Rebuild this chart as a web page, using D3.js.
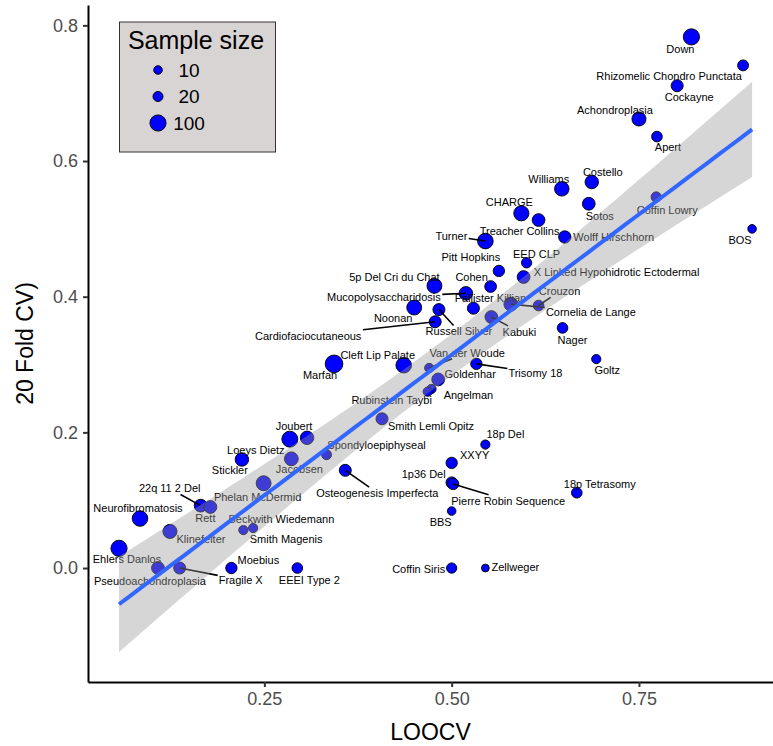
<!DOCTYPE html>
<html><head><meta charset="utf-8">
<script src="https://cdn.jsdelivr.net/npm/d3@7"></script>
<style>
body{margin:0;background:#fff}
svg{display:block;font-family:"Liberation Sans",Arial,Helvetica,sans-serif}
</style>
</head><body>
<svg id="chart" width="773" height="746"></svg>
<script>
// ---------------- data ----------------
const syndromes = ["Down","Rhizomelic Chondro Punctata","Cockayne","Achondroplasia","Apert","Costello","Williams","Sotos","CHARGE","Treacher Collins","Coffin Lowry","BOS","Wolff Hirschhorn","Turner","EED CLP","Pitt Hopkins","X Linked Hypohidrotic Ectodermal","Cohen","5p Del Cri du Chat","Mucopolysaccharidosis","Pallister Killian","Noonan","Russell Silver","Cardiofaciocutaneous","Kabuki","Crouzon","Cornelia de Lange","Nager","Cleft Lip Palate","Van der Woude","Marfan","Trisomy 18","Goldenhar","Goltz","Angelman","Rubinstein Taybi","Smith Lemli Opitz","Loeys Dietz","Joubert","18p Del","Spondyloepiphyseal","Jacobsen","Stickler","XXYY","Osteogenesis Imperfecta","1p36 Del","Pierre Robin Sequence","Phelan McDermid","22q 11 2 Del","Rett","18p Tetrasomy","Neurofibromatosis","Beckwith Wiedemann","Smith Magenis","BBS","Klinefelter","Ehlers Danlos","Moebius","Coffin Siris","Zellweger","Pseudoachondroplasia","Fragile X","EEEI Type 2"];
const loocv = [0.820,0.889,0.801,0.750,0.774,0.687,0.647,0.683,0.593,0.616,0.773,0.901,0.651,0.545,0.600,0.563,0.596,0.552,0.477,0.519,0.529,0.450,0.483,0.478,0.553,0.616,0.579,0.648,0.436,0.470,0.343,0.533,0.482,0.693,0.473,0.468,0.407,0.284,0.307,0.545,0.333,0.286,0.220,0.500,0.358,0.500,0.502,0.249,0.165,0.178,0.667,0.084,0.222,0.235,0.500,0.124,0.056,0.206,0.500,0.545,0.108,0.137,0.294];
const foldCV20 = [0.783,0.741,0.711,0.662,0.636,0.569,0.559,0.537,0.523,0.513,0.547,0.500,0.488,0.482,0.450,0.438,0.429,0.415,0.416,0.405,0.383,0.384,0.381,0.363,0.370,0.387,0.389,0.354,0.299,0.295,0.301,0.301,0.278,0.308,0.264,0.260,0.220,0.190,0.192,0.182,0.167,0.161,0.160,0.155,0.144,0.126,0.124,0.125,0.092,0.090,0.111,0.073,0.056,0.059,0.084,0.054,0.029,0.000,0.000,0.000,0.000,0.000,0.000];
const sampleSize = [100,28,39,66,25,57,72,48,83,48,22,10,43,90,22,32,48,36,78,57,39,78,39,39,48,25,62,25,89,14,128,32,48,14,14,14,39,96,57,14,19,62,57,32,39,32,32,78,48,48,25,89,14,14,10,66,100,32,22,6,48,39,25];
const legendSizes = [10,20,100];
const xTicks = [0.25,0.50,0.75];
const yTicks = [0.0,0.2,0.4,0.6,0.8];

// -------- label placement (pixel offsets from point, like ggrepel output) --------
const labelLayout = {
 "Down":[-11,12],"Rhizomelic Chondro Punctata":[-74,11],"Cockayne":[12,11],"Achondroplasia":[-24,-9],
 "Apert":[11,11],"Costello":[11,-10],"Williams":[-13,-10],"Sotos":[11,12],"CHARGE":[-12,-11],
 "Treacher Collins":[-19,11],"Coffin Lowry":[11,13],"BOS":[-12,11],"Wolff Hirschhorn":[49,0],
 "Turner":[-34,-5],"EED CLP":[10,-9],"Pitt Hopkins":[-28,-14],"X Linked Hypohidrotic Ectodermal":[93,-5],
 "Cohen":[-19,-9],"5p Del Cri du Chat":[-40,-9],"Mucopolysaccharidosis":[-82,4],"Pallister Killian":[17,-10],
 "Noonan":[-21,11],"Russell Silver":[20,22],"Cardiofaciocutaneous":[-127,14],"Kabuki":[28,15],
 "Crouzon":[21,-14],"Cornelia de Lange":[80,8],"Nager":[10,12],"Cleft Lip Palate":[-26,-10],
 "Van der Woude":[38,-15],"Marfan":[-14,11],"Trisomy 18":[59,9],"Goldenhar":[32,-5],"Goltz":[11,11],
 "Angelman":[37,6],"Rubinstein Taybi":[-36,8],"Smith Lemli Opitz":[49,7],"Loeys Dietz":[-34,11],
 "Joubert":[-13,-12],"18p Del":[20,-10],"Spondyloepiphyseal":[50,-10],"Jacobsen":[8,10],"Stickler":[-12,11],
 "XXYY":[23,-8],"Osteogenesis Imperfecta":[32,23],"1p36 Del":[-28,-8],"Pierre Robin Sequence":[55,17],
 "Phelan McDermid":[-6,14],"22q 11 2 Del":[-31,-17],"Rett":[-5,11],"18p Tetrasomy":[23,-9],
 "Neurofibromatosis":[-2,-10],"Beckwith Wiedemann":[38,-11],"Smith Magenis":[33,11],"BBS":[-11,11],
 "Klinefelter":[31,8],"Ehlers Danlos":[8,11],"Moebius":[27,-8],"Coffin Siris":[-33,1],"Zellweger":[30,-1],
 "Pseudoachondroplasia":[-8,13],"Fragile X":[61,12],"EEEI Type 2":[12,12]
};
const withSegment = new Set(["Turner","Mucopolysaccharidosis","Crouzon","Cornelia de Lange","Russell Silver",
 "Cardiofaciocutaneous","Kabuki","Van der Woude","Trisomy 18","Osteogenesis Imperfecta","22q 11 2 Del",
 "Pierre Robin Sequence","Fragile X"]);

// ---------------- chart ----------------
const svg = d3.select("#chart");
const L = 88, R = 773, T = 5, B = 682;
const x = d3.scaleLinear().domain([0.0146, 0.9289]).range([L, R]);
const y = d3.scaleLinear().domain([-0.168, 0.83]).range([B, T]);
const r = d3.scaleSqrt().domain([10, 100]).range([4.3, 8.1]);

const data = syndromes.map((s,i)=>({name:s, x:loocv[i], y:foldCV20[i], n:sampleSize[i]}));

svg.append("defs").append("clipPath").attr("id","clip")
  .append("rect").attr("x",L).attr("y",T).attr("width",R-L).attr("height",B-T);

const plot = svg.append("g").attr("clip-path","url(#clip)");

// points
plot.append("g").selectAll("circle").data(data).join("circle")
  .attr("cx",d=>x(d.x)).attr("cy",d=>y(d.y)).attr("r",d=>r(d.n))
  .attr("fill","#0000ff").attr("stroke","#000").attr("stroke-width",0.9);

// labels + leader segments (segment runs from the point towards the label centre, stopping at the label box)
const segG = plot.append("g");
const labG = plot.append("g").attr("font-size","11px").attr("fill","#000");
data.forEach(d=>{
  const off = labelLayout[d.name] || [0,-10];
  const px = x(d.x), py = y(d.y);
  const t = labG.append("text").attr("x",px+off[0]).attr("y",py+off[1]).attr("dy","0.35em")
    .attr("text-anchor","middle").text(d.name);
  if (withSegment.has(d.name)) {
    const bb = t.node().getBBox();
    const cx = bb.x+bb.width/2, cy = bb.y+bb.height/2;
    const hw = bb.width/2+1, hh = bb.height/2;
    const dx = px-cx, dy = py-cy;
    const k = Math.min(dx!==0 ? hw/Math.abs(dx) : Infinity, dy!==0 ? hh/Math.abs(dy) : Infinity, 1);
    const ex = cx+dx*k, ey = cy+dy*k;
    segG.append("line").attr("x1",px).attr("y1",py).attr("x2",ex).attr("y2",ey)
      .attr("stroke","#000").attr("stroke-width",1.6);
  }
});

// linear fit with 95% CI (as geom_smooth(method = "lm"))
const n = data.length;
const mx = d3.mean(data,d=>d.x), my = d3.mean(data,d=>d.y);
const sxx = d3.sum(data,d=>(d.x-mx)**2), sxy = d3.sum(data,d=>(d.x-mx)*(d.y-my));
const b1 = sxy/sxx, b0 = my-b1*mx;
const s = Math.sqrt(d3.sum(data,d=>(d.y-b0-b1*d.x)**2)/(n-2));
const tq = 1.999;
const xs = d3.range(81).map(i=>d3.min(loocv)+(d3.max(loocv)-d3.min(loocv))*i/80);
const fit = xs.map(v=>{const se=s*Math.sqrt(1/n+(v-mx)**2/sxx); const f=b0+b1*v; return {x:v,f:f,lo:f-tq*se,hi:f+tq*se};});
plot.append("path").datum(fit)
  .attr("d", d3.area().x(d=>x(d.x)).y0(d=>y(d.lo)).y1(d=>y(d.hi)))
  .attr("fill","#999999").attr("fill-opacity",0.4);
plot.append("path").datum(fit)
  .attr("d", d3.line().x(d=>x(d.x)).y(d=>y(d.f)))
  .attr("fill","none").attr("stroke","#3366FF").attr("stroke-width",4);

// axes
const xAxis = svg.append("g").attr("transform",`translate(0,${B})`)
  .call(d3.axisBottom(x).tickValues(xTicks).tickFormat(d3.format(".2f")).tickSize(5).tickPadding(5).tickSizeOuter(0));
const yAxis = svg.append("g").attr("transform",`translate(${L},0)`)
  .call(d3.axisLeft(y).tickValues(yTicks).tickFormat(d3.format(".1f")).tickSize(5).tickPadding(5).tickSizeOuter(0));
[xAxis,yAxis].forEach(a=>{
  a.select(".domain").attr("stroke","#000").attr("stroke-width",2);
  a.selectAll(".tick line").attr("stroke","#333").attr("stroke-width",2);
  a.selectAll(".tick text").attr("fill","#4d4d4d").attr("font-size","18px")
    .attr("font-family","'Liberation Sans',Arial,sans-serif");
});

svg.append("text").attr("x",(L+R)/2).attr("y",740).attr("text-anchor","middle")
  .attr("font-size","23px").attr("fill","#000").text("LOOCV");
svg.append("text").attr("transform",`translate(33,${(T+B)/2}) rotate(-90)`).attr("text-anchor","middle")
  .attr("font-size","23px").attr("fill","#000").text("20 Fold CV)");

// legend
const lg = svg.append("g");
lg.append("rect").attr("x",119.5).attr("y",22).attr("width",156).attr("height",130)
  .attr("fill","#d9d4d4").attr("stroke","#333").attr("stroke-width",1);
lg.append("text").attr("x",196).attr("y",49).attr("text-anchor","middle")
  .attr("font-size","25px").attr("fill","#000").text("Sample size");
const legY = d3.scalePoint().domain(legendSizes).range([70,123]);
lg.selectAll("circle.k").data(legendSizes).join("circle")
  .attr("cx",158).attr("cy",d=>legY(d)).attr("r",d=>r(d))
  .attr("fill","#0000ff").attr("stroke","#000").attr("stroke-width",0.9);
lg.selectAll("text.k").data(legendSizes).join("text")
  .attr("x",189).attr("y",d=>legY(d)).attr("dy","0.35em").attr("text-anchor","middle")
  .attr("font-size","19px").attr("fill","#000").text(d=>d);
</script>
</body></html>
